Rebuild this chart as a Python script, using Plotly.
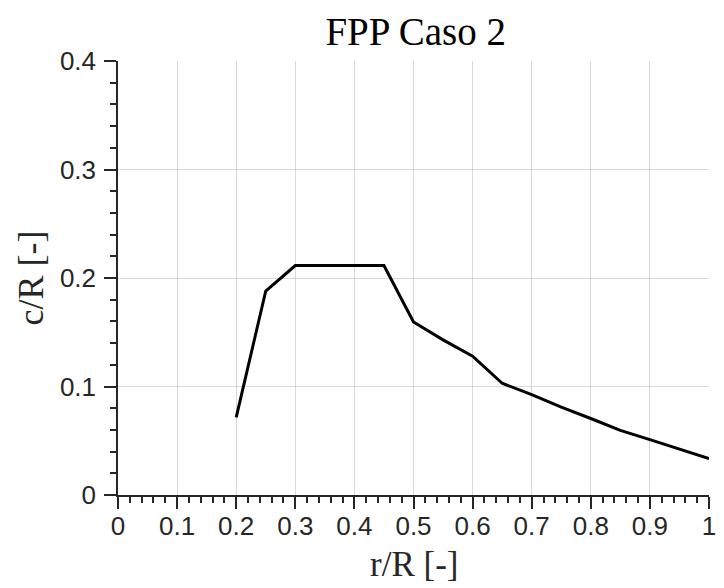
import plotly.graph_objects as go

r_R = [0.2, 0.25, 0.3, 0.35, 0.4, 0.45, 0.5, 0.55, 0.6, 0.65, 0.7, 0.75, 0.8, 0.85, 0.9, 0.95, 1.0]
c_R = [0.0715, 0.188, 0.2115, 0.2115, 0.2115, 0.2115, 0.1595, 0.143, 0.128, 0.103, 0.0925, 0.081, 0.0705, 0.0595, 0.051, 0.042, 0.0335]

x_ticks = [0, 0.1, 0.2, 0.3, 0.4, 0.5, 0.6, 0.7, 0.8, 0.9, 1]
x_ticklabels = ["0", "0.1", "0.2", "0.3", "0.4", "0.5", "0.6", "0.7", "0.8", "0.9", "1"]
y_ticks = [0, 0.1, 0.2, 0.3, 0.4]
y_ticklabels = ["0", "0.1", "0.2", "0.3", "0.4"]

title_text = "FPP Caso 2"
x_title = "r/R [-]"
y_title = "c/R [-]"

axis_color = "#262626"
grid_color = "rgba(38,38,38,0.17)"
tick_font = dict(family="Liberation Sans, Arial, sans-serif", size=26, color=axis_color)
serif = "Liberation Serif, Times New Roman, serif"

fig = go.Figure()
fig.add_trace(go.Scatter(x=r_R, y=c_R, mode="lines",
                         line=dict(color="black", width=3), showlegend=False))

common = dict(
    showline=True, linecolor=axis_color, linewidth=1.5, mirror=False,
    showgrid=True, gridcolor=grid_color, gridwidth=1,
    zeroline=False, ticks="outside", ticklen=12, tickwidth=1.5, tickcolor=axis_color,
    tickfont=tick_font,
    minor=dict(ticks="outside", ticklen=6, tickwidth=1.5, tickcolor=axis_color,
               dtick=0.02, showgrid=False),
)

fig.update_xaxes(range=[0, 1], tickmode="array", tickvals=x_ticks, ticktext=x_ticklabels,
                 ticklabelstandoff=-5, **common)
fig.update_yaxes(range=[0, 0.4], tickmode="array", tickvals=y_ticks, ticktext=y_ticklabels,
                 ticklabelstandoff=3, **common)

fig.add_annotation(text=x_title, xref="paper", yref="paper", x=0.5, y=-0.2095,
                   xanchor="center", yanchor="bottom", showarrow=False,
                   font=dict(family=serif, size=35, color=axis_color))
fig.add_annotation(text=y_title, xref="paper", yref="paper", x=-0.148, y=0.5,
                   xanchor="center", yanchor="middle", textangle=-90, showarrow=False,
                   font=dict(family=serif, size=36, color=axis_color))

fig.update_layout(
    width=724, height=588,
    margin=dict(l=117.5, r=8, t=60.6, b=92.6),
    paper_bgcolor="white", plot_bgcolor="white",
    title=dict(text=title_text, x=0.5742, xanchor="center", y=0.947, yanchor="middle",
               font=dict(family=serif, size=39, color="black")),
)

fig.write_html("out.html")
